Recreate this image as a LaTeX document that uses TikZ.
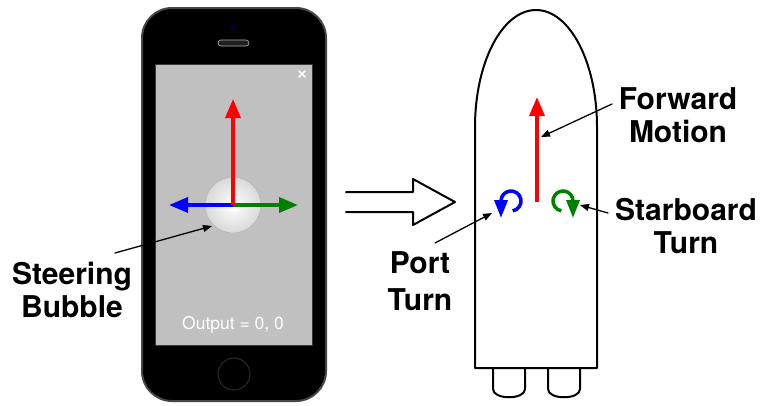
\documentclass[tikz,border=0pt]{standalone}
\usepackage{fontspec}
\setmainfont{TeX Gyre Heros}
\usetikzlibrary{arrows.meta}
\definecolor{screengray}{RGB}{192,192,192}
\definecolor{darkgreen}{RGB}{0,128,0}
\begin{document}
\begin{tikzpicture}[x=1pt,y=-1pt,line join=round,line cap=round,>={Triangle[length=9pt,width=7pt]}]
	\tikzset{lbl/.style={font=\bfseries\fontsize{30}{33}\selectfont,align=center,anchor=base,inner sep=0pt},
		axis/.style={line width=3.5pt,line cap=butt,-{Triangle[length=19pt,width=15pt]}},
		curl/.style={line width=3.5pt,line cap=butt,-{Triangle[length=18pt,width=13pt]}},
		lead/.style={line width=1.3pt,->}}
	\useasboundingbox (0,0) rectangle (762,405);
	% the phone
	\filldraw[fill=black,draw=gray!55!black,line width=2pt,rounded corners=30pt] (142,8) rectangle (326,401);
	\filldraw[fill=screengray,draw=gray!45!black,line width=1pt] (155,64) rectangle (312,345);
	\filldraw[fill=gray!25!black,draw=gray!60,line width=0.6pt,rounded corners=3pt] (218,40) rectangle (249,46);
	\fill[blue!20!black] (233,27) circle (3);
	\draw[gray!35!black,line width=1pt] (234,374) circle (16);
	\draw[white,line width=1.6pt] (299,71)--(305,77) (299,77)--(305,71);
	\node[text=white,font=\fontsize{17.5}{20}\selectfont,anchor=base,inner sep=0pt] (output) at (233,329) {Output = 0, 0};
	\node[circle,minimum size=56pt,inner sep=0pt,draw=gray!55,line width=0.8pt,inner color=white,outer color=gray!30] (bubble) at (233,205) {};
	\draw[axis,blue] (bubble.center) -- ++(-64,0);
	\draw[axis,darkgreen] (bubble.center) -- ++(65,0);
	\draw[axis,red] (bubble.center) -- ++(0,-106);
	% hollow arrow
	\draw[line width=2pt] (346,192) -- (413,192) -- (413,179) -- (455,202) -- (413,225) -- (413,212) -- (346,212);
	% the boat
	\draw[line width=2pt] (475,368) -- (475,127) arc (180:360:61 and 117) -- (597,368) -- cycle;
	\foreach \x in {493,548}
	\draw[line width=2pt] (\x,368) -- (\x,389) .. controls (\x,400) and (\x+32,400) .. (\x+32,389) -- (\x+32,368);
	\coordinate (boat) at (537,202);
	\draw[axis,red] (boat) -- ++(0,-105);
	\draw[curl,blue] (511,201) ++(80:10) arc (80:-180:10) -- ++(0,17);
	\draw[curl,darkgreen] (563,201) ++(100:10) arc (100:360:10) -- ++(0,17);
	% labels (base is the last line)
	\node[lbl] (steer) at (72,317) {Steering\\Bubble};
	\node[lbl] (forward) at (678,142) {Forward\\Motion};
	\node[lbl] (starboard) at (686,253) {Starboard\\Turn};
	\node[lbl,font=\bfseries\fontsize{30}{37}\selectfont] (port) at (420,310) {Port\\Turn};
	\coordinate (steer-from) at (115,253);
	\coordinate (steer-to) at (212,226);
	\coordinate (forward-from) at (612,104);
	\coordinate (forward-to) at (541,137);
	\coordinate (port-from) at (435,243);
	\coordinate (port-to) at (492,213);
	\coordinate (starboard-from) at (608,213);
	\coordinate (starboard-to) at (580,205);
	\foreach \n in {steer,forward,port,starboard}
	\draw[lead] (\n-from) -- (\n-to);
\end{tikzpicture}
\end{document}
